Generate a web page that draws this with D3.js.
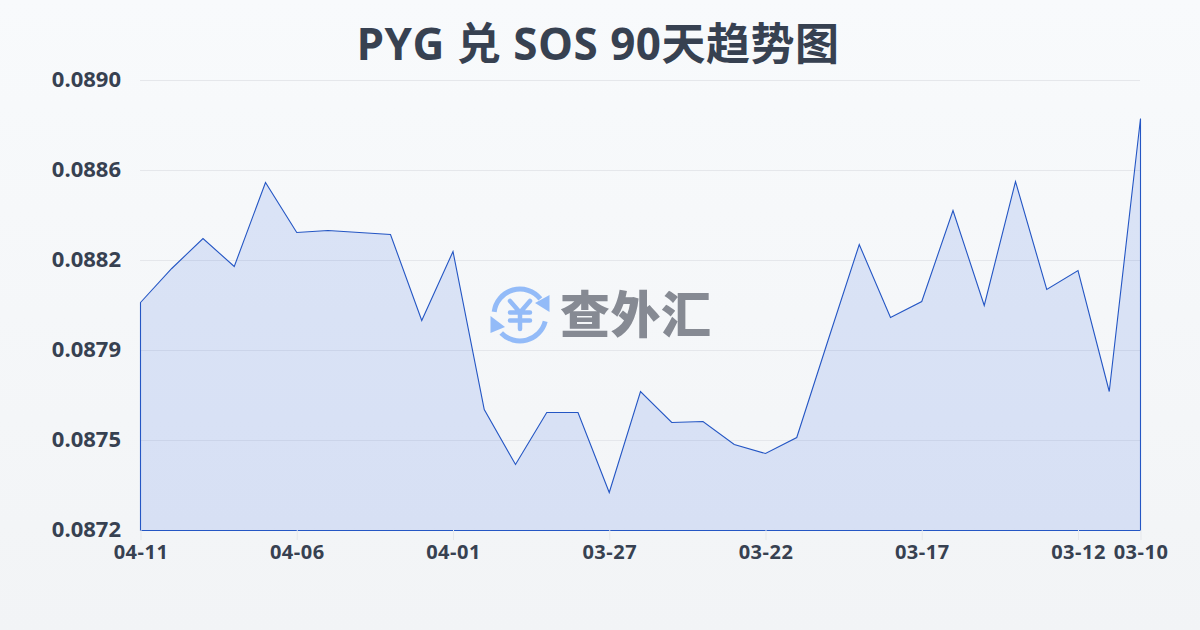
<!DOCTYPE html>
<html><head><meta charset="utf-8">
<script src="https://cdnjs.cloudflare.com/ajax/libs/d3/7.8.5/d3.min.js"></script>
<style>html,body{margin:0;padding:0;width:1200px;height:630px;overflow:hidden}svg{display:block}</style>
</head><body><svg id="c" width="1200" height="630"></svg>
<script>
const titleText = "PYG 兑 SOS 90天趋势图";
const watermarkText = "查外汇";
const dates = ["04-11","04-10","04-09","04-08","04-07","04-06","04-05","04-04","04-03","04-02","04-01","03-31","03-30","03-29","03-28","03-27","03-26","03-25","03-24","03-23","03-22","03-21","03-20","03-19","03-18","03-17","03-16","03-15","03-14","03-13","03-12","03-11","03-10"];
const rates = [0.088112,0.088248,0.088368,0.088256,0.088592,0.088392,0.0884,0.088392,0.088384,0.08804,0.088316,0.087684,0.087464,0.087672,0.087672,0.087352,0.087756,0.087632,0.087636,0.087544,0.087508,0.087572,0.08796,0.088344,0.088052,0.088116,0.08848,0.0881,0.088596,0.088164,0.08824,0.087756,0.088848];
const yTickValues = [0.0872,0.08756,0.08792,0.08828,0.08864,0.089];
const yTickLabels = ["0.0872","0.0875","0.0879","0.0882","0.0886","0.0890"];
const xTickDates = ["04-11","04-06","04-01","03-27","03-22","03-17","03-12","03-10"];

const svg = d3.select("#c");
const defs = svg.append("defs");
const bg = defs.append("linearGradient").attr("id","bg").attr("x1",0).attr("y1",0).attr("x2",0).attr("y2",1);
bg.append("stop").attr("offset",0).attr("stop-color","#f8fafc");
bg.append("stop").attr("offset",1).attr("stop-color","#f2f4f6");
svg.append("rect").attr("width",1200).attr("height",630).attr("fill","url(#bg)");

const x = d3.scalePoint().domain(dates).range([140.5,1140.5]);
const y = d3.scaleLinear().domain([0.0872,0.089]).range([530.5,80.5]);
const font = "'Open Sans','Noto Sans CJK SC',sans-serif";
const ink = "#374151";

svg.append("g").selectAll("line").data(yTickValues.slice(1)).join("line")
  .attr("x1",140).attr("x2",1140).attr("y1",d=>y(d)).attr("y2",d=>y(d))
  .attr("stroke","#e5e7eb").attr("stroke-width",1);

const area = d3.area().x((d,i)=>x(dates[i])).y0(y(0.0872)).y1(d=>y(d));
svg.append("path").datum(rates).attr("d",area).attr("fill","#1d56e0").attr("fill-opacity",.13)
  .attr("stroke","#2456c4").attr("stroke-width",1.1);

// watermark
const wm = svg.append("g");
const logo = wm.append("g").attr("transform","translate(520,315)").attr("fill","none").attr("stroke","#93bbf8").attr("stroke-linecap","round");
logo.append("path").attr("stroke-width",5).attr("d",d3.arc()({innerRadius:26,outerRadius:26,startAngle:-1.45,endAngle:0.9}));
logo.append("path").attr("stroke-width",5).attr("d",d3.arc()({innerRadius:26,outerRadius:26,startAngle:1.82,endAngle:3.95}));
logo.append("path").attr("fill","#93bbf8").attr("stroke","none").attr("d","M15,-12 L29.5,-20 L29.5,-3 Z");
logo.append("path").attr("fill","#93bbf8").attr("stroke","none").attr("d","M-29.5,1 L-29.5,18 L-15,12 Z");
logo.append("path").attr("stroke-width",4.5).attr("d","M-10,-14 L0,-2.5 L10,-14 M0,-2.5 L0,14 M-10,-2.5 L10,-2.5 M-10,5.5 L10,5.5");
wm.append("text").text(watermarkText).attr("x",560).attr("y",333).attr("font-family","'Noto Sans CJK SC',sans-serif").attr("font-weight",900)
  .attr("font-size",50).attr("textLength",151).attr("fill","#868a93");

// axes
const yAxis = d3.axisLeft(y).tickValues(yTickValues).tickFormat((d,i)=>yTickLabels[i]).tickSize(0).tickPadding(19);
const gy = svg.append("g").attr("transform","translate(140,-1)").call(yAxis);
gy.select(".domain").remove();
gy.selectAll("text").attr("font-family",font).attr("font-weight",700).attr("font-size",22).attr("fill",ink);

const xAxis = d3.axisBottom(x).tickValues(xTickDates).tickSize(10).tickPadding(5);
const gx = svg.append("g").attr("transform","translate(0,530)").call(xAxis);
gx.select(".domain").remove();
gx.selectAll("line").attr("stroke","#e5e7eb");
gx.selectAll("text").attr("font-family",font).attr("font-weight",700).attr("font-size",20).attr("letter-spacing",".5px").attr("fill",ink);

svg.append("text").text(titleText).attr("x",598).attr("y",60).attr("text-anchor","middle")
  .attr("font-family",font).attr("font-weight",700).attr("font-size",44).attr("letter-spacing",".5px").attr("fill",ink);
</script></body></html>
